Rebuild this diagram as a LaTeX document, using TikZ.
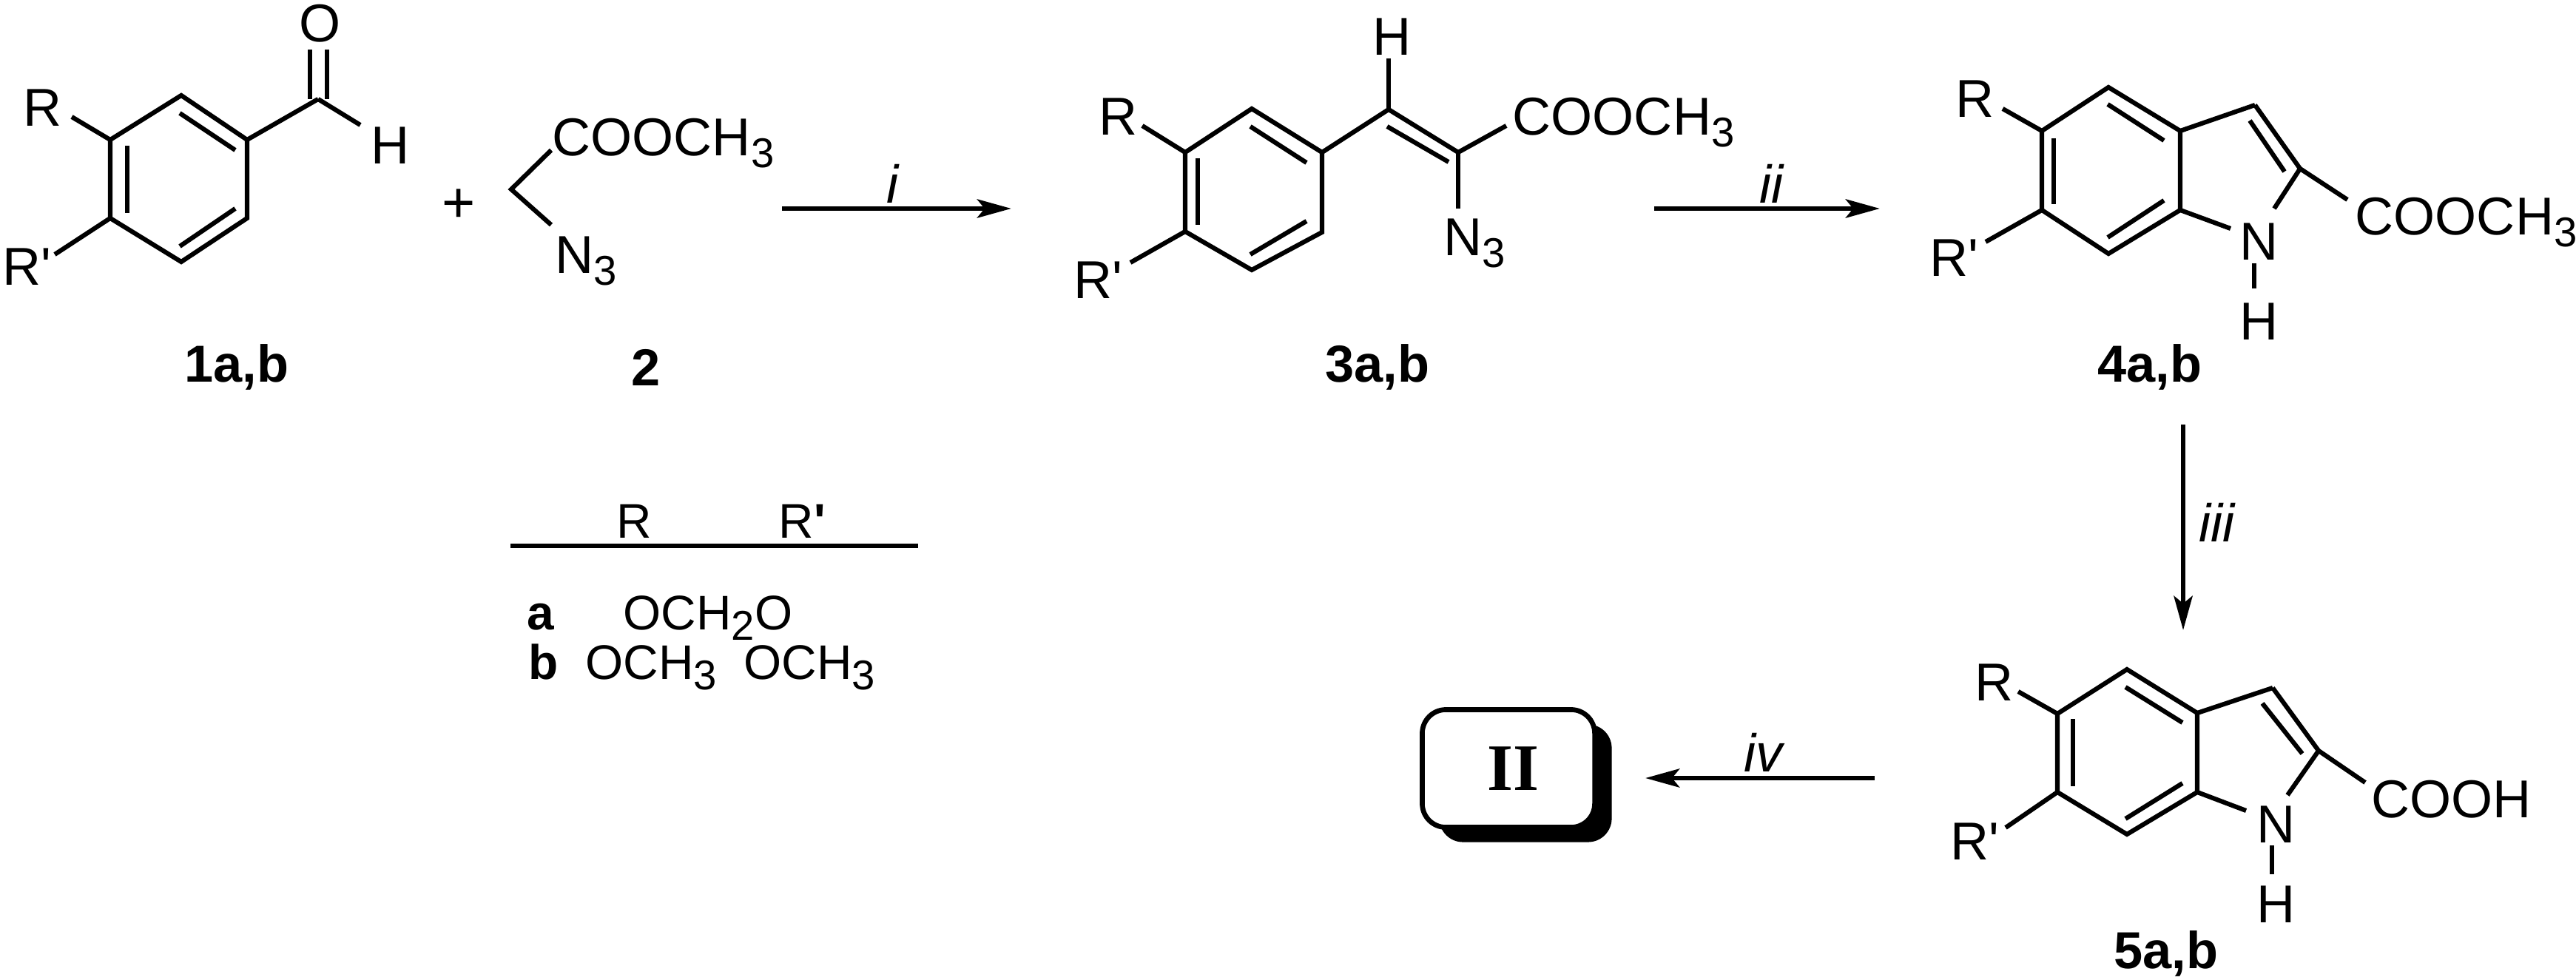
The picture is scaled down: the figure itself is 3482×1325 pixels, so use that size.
\documentclass[tikz,border=0pt]{standalone}
\usepackage{fontspec}
\setmainfont{Liberation Sans}
\newfontfamily\boxfont{Liberation Serif}
\usetikzlibrary{arrows.meta,shadows}
\newcommand{\rprime}{R\textquotesingle}
\newcommand{\lowered}[1]{\raisebox{-0.22em}{\fontsize{16}{16}\selectfont #1}}
\newcommand{\chemtext}[4]{\node[chem] (#1) at (#2,#3) {#4};}
\newcommand{\compound}[4]{\node[compoundlabel] (#1) at (#2,#3) {#4};}
\newcommand{\steplabel}[4]{\node[stepname] (#1) at (#2,#3) {#4};}
\newcommand{\placepoints}[1]{\foreach \n/\x/\y in {#1} \coordinate (\n) at (\x,\y);}
\tikzset{
  bond/.style={line width=1.75pt,line join=miter},
  reaction/.style={line width=1.9pt,-{Stealth[length=0.46cm,width=0.25cm,inset=0.1cm]}},
  chem/.style={anchor=base west,inner sep=0pt,font=\fontsize{20.5}{24}\selectfont},
  tablechem/.style={chem,font=\fontsize{18.7}{22}\selectfont},
  compoundlabel/.style={anchor=base west,inner sep=0pt,font=\fontsize{20}{24}\selectfont\bfseries},
  stepname/.style={anchor=base west,inner sep=0pt,font=\fontsize{20.5}{24}\selectfont\itshape},
  targetbox/.style={draw,line width=1.9pt,fill=white,rounded corners=0.32cm,minimum width=2.33cm,
    minimum height=1.59cm,inner sep=0pt,drop shadow={shadow xshift=0.23cm,shadow yshift=-0.2cm,fill=black,opacity=1}}
}

\begin{document}
\begin{tikzpicture}[x=0.01cm,y=-0.01cm]
  \useasboundingbox (0,0) rectangle (3482,1325);
  % aldehyde 1
  \placepoints{a1/245/129,a2/334/189,a3/334/295,a4/245/354,a5/149/295,a6/149/189,
    ai1/243/153,ai2/318/203,ai3/172/197,ai4/172/288,ai5/318/282,ai6/243/333,
    ac/430/134,ao1/419/67,ao2/442/67,ao3/419/134,ao4/442/134,ah/487/169,ar/97/158,arp/74/344}
  \draw[bond] (a1)--(a2)--(a3)--(a4)--(a5)--(a6)--cycle;
  \foreach \u/\v in {ai1/ai2,ai3/ai4,ai5/ai6,a2/ac,ac/ah,a6/ar,a5/arp,ao1/ao3,ao2/ao4}
    \draw[bond] (\u)--(\v);
  \chemtext{ro}{404}{57}{O}
  \chemtext{rh}{501}{222}{H}
  \chemtext{rr}{31}{171}{R}
  \chemtext{rrp}{3}{386}{\rprime}
  \compound{lone}{249}{517}{1a,b}
  \node[chem,anchor=base,font=\fontsize{22}{24}\selectfont] (plus) at (620,301) {+};
  % azidoacetate 2
  \placepoints{b1/691/256,b2/745/203,b3/745/304}
  \draw[bond] (b2)--(b1)--(b3);
  \chemtext{bester}{746}{211}{COOCH\lowered{3}}
  \chemtext{bazide}{750}{370}{N\lowered{3}}
  \compound{ltwo}{853}{522}{2}
  % cinnamate 3
  \placepoints{c1/1692/147,c2/1787/206,c3/1787/314,c4/1692/365,c5/1602/313,c6/1602/206,
    ci1/1690/171,ci2/1766/220,ci3/1619/214,ci4/1619/304,ci5/1766/299,ci6/1690/344,
    cv/1877/148,cw/1971/206,cvi/1875/171,cwi/1958/219,ch/1877/79,ce/2036/170,cn/1971/282,
    cr/1544/170,crp/1528/355}
  \draw[bond] (c1)--(c2)--(c3)--(c4)--(c5)--(c6)--cycle;
  \foreach \u/\v in {ci1/ci2,ci3/ci4,ci5/ci6,c2/cv,cv/cw,cvi/cwi,cv/ch,cw/ce,cw/cn,c6/cr,c5/crp}
    \draw[bond] (\u)--(\v);
  \chemtext{sh}{1855}{75}{H}
  \chemtext{sester}{2044}{183}{COOCH\lowered{3}}
  \chemtext{sazide}{1951}{346}{N\lowered{3}}
  \chemtext{sr}{1485}{183}{R}
  \chemtext{srp}{1451}{404}{\rprime}
  \compound{lthree}{1791}{517}{3a,b}
  % indole ester 4
  \placepoints{d1/2850/118,d2/2947/177,d3/2947/284,d4/2850/343,d5/2760/284,d6/2760/177,
    di1/2849/141,di2/2925/190,di3/2776/187,di4/2776/276,di5/2925/271,di6/2849/321,
    d7/3048/142,d8/3109/228,di7/3041/163,di8/3088/232,dn1/3074/282,dn2/3015/309,
    dh1/3047/356,dh2/3047/390,de/3173/270,dr/2707/147,drp/2684/327}
  \draw[bond] (d1)--(d2)--(d3)--(d4)--(d5)--(d6)--cycle;
  \foreach \u/\v in {di1/di2,di3/di4,di5/di6,d2/d7,d7/d8,di7/di8,d8/dn1,d3/dn2,dh1/dh2,d8/de,d6/dr,d5/drp}
    \draw[bond] (\u)--(\v);
  \chemtext{un}{3027}{352}{N}
  \chemtext{uh}{3027}{460}{H}
  \chemtext{uester}{3183}{318}{COOCH\lowered{3}}
  \chemtext{ur}{2643}{159}{R}
  \chemtext{urp}{2608}{374}{\rprime}
  \compound{lfour}{2835}{517}{4a,b}
  % indole acid 5
  \placepoints{e1/2875/905,e2/2970/964,e3/2970/1071,e4/2875/1128,e5/2781/1071,e6/2781/965,
    ei1/2873/929,ei2/2950/977,ei3/2802/972,ei4/2802/1063,ei5/2950/1059,ei6/2873/1107,
    e7/3072/930,e8/3134/1015,ei7/3058/951,ei8/3112/1019,en1/3092/1075,en2/3036/1096,
    eh1/3071/1143,eh2/3071/1182,ea/3197/1058,er/2728/935,erp/2711/1119}
  \draw[bond] (e1)--(e2)--(e3)--(e4)--(e5)--(e6)--cycle;
  \foreach \u/\v in {ei1/ei2,ei3/ei4,ei5/ei6,e2/e7,e7/e8,ei7/ei8,e8/en1,e3/en2,eh1/eh2,e8/ea,e6/er,e5/erp}
    \draw[bond] (\u)--(\v);
  \chemtext{vn}{3050}{1139}{N}
  \chemtext{vh}{3050}{1247}{H}
  \chemtext{vacid}{3205}{1105}{COOH}
  \chemtext{vr}{2669}{947}{R}
  \chemtext{vrp}{2636}{1162}{\rprime}
  \compound{lfive}{2857}{1309}{5a,b}
  % reaction arrows
  \placepoints{p1/1057/282,p2/1367/282,q1/2236/282,q2/2541/282,s1/2951/574,s2/2951/852,t1/2534/1052,t2/2224/1052}
  \draw[reaction] (p1)--(p2);
  \draw[reaction] (q1)--(q2);
  \draw[reaction] (s1)--(s2);
  \draw[reaction] (t1)--(t2);
  \steplabel{li}{1198}{275}{i}
  \steplabel{lii}{2378}{275}{ii}
  \steplabel{liii}{2972}{732}{iii}
  \steplabel{liv}{2357}{1043}{iv}
  \node[targetbox] (target) at (2039,1039) {\fontsize{25.5}{28}\boxfont\bfseries\hspace{0.12cm}II};
  % substituent table
  \placepoints{h1/690/738,h2/1241/738}
  \draw[bond] (h1)--(h2);
  \chemtext{hr}{833}{727}{\fontsize{18.7}{22}\selectfont R}
  \chemtext{hrp}{1052}{727}{\fontsize{18.7}{22}\selectfont R\textbf{\textquotesingle}}
  \node[compoundlabel,font=\fontsize{18.7}{22}\selectfont\bfseries] (ta) at (712,851) {a};
  \node[compoundlabel,font=\fontsize{18.7}{22}\selectfont\bfseries] (tb) at (714,918) {b};
  \node[tablechem] (tc) at (842,851) {OCH\lowered{2}O};
  \node[tablechem] (td) at (791,918) {OCH\lowered{3}};
  \node[tablechem] (te) at (1005,918) {OCH\lowered{3}};
\end{tikzpicture}
\end{document}
